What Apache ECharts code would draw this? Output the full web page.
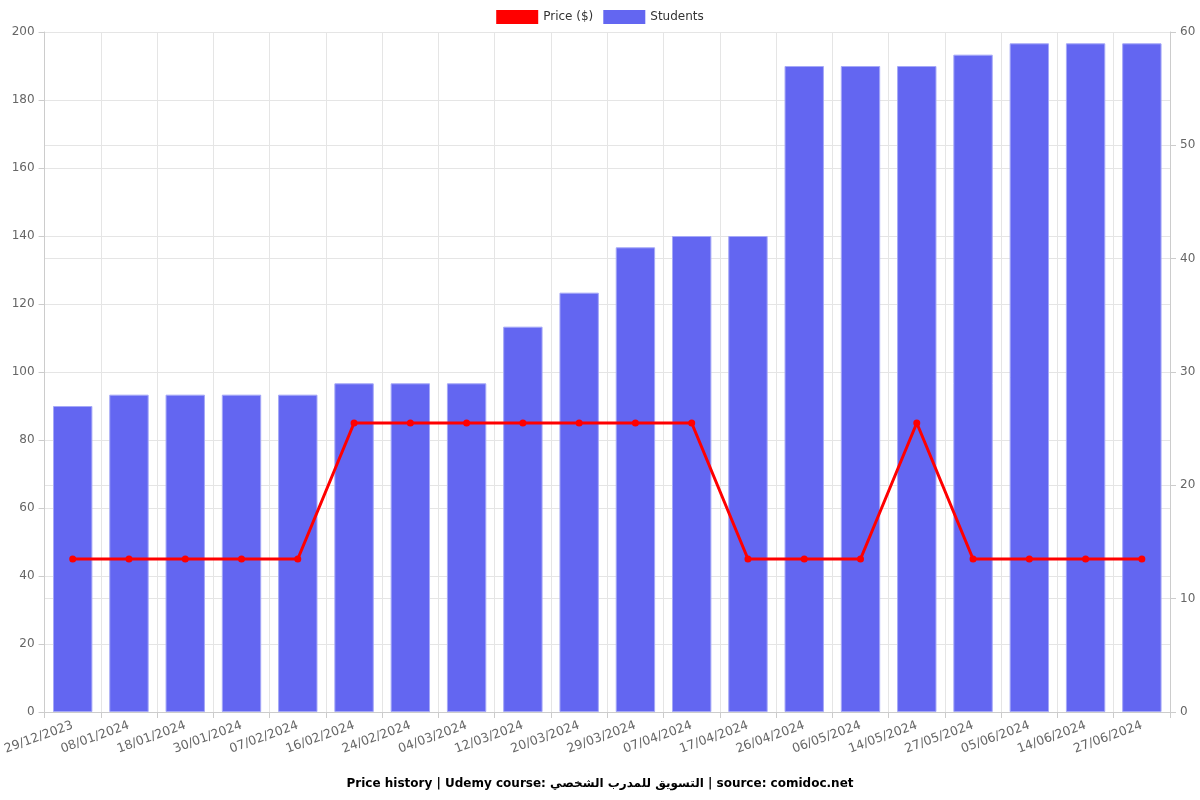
<!DOCTYPE html>
<html><head><meta charset="utf-8">
<script src="https://cdn.jsdelivr.net/npm/echarts@6/dist/echarts.min.js"></script>
<style>html,body{margin:0;padding:0;background:#fff}#c{width:1200px;height:800px}</style>
</head><body><div id="c"></div>
<script>
const categories = ["29/12/2023","08/01/2024","18/01/2024","30/01/2024","07/02/2024","16/02/2024","24/02/2024","04/03/2024","12/03/2024","20/03/2024","29/03/2024","07/04/2024","17/04/2024","26/04/2024","06/05/2024","14/05/2024","27/05/2024","05/06/2024","14/06/2024","27/06/2024"];
const price = [45,45,45,45,45,85,85,85,85,85,85,85,45,45,45,85,45,45,45,45];
const students = [27,28,28,28,28,29,29,29,34,37,41,42,42,57,57,57,58,59,59,59];
const titleText = "Price history | Udemy course: التسويق للمدرب الشخصي | source: comidoc.net";

const chart = echarts.init(document.getElementById('c'));
const axisLabelStyle = {color:'#666', fontSize:12, fontFamily:'DejaVu Sans'};
chart.setOption({
  animation:false,
  title:{text:titleText, left:'center', bottom:5, textStyle:{fontSize:12, fontWeight:'bold', color:'#000', fontFamily:'DejaVu Sans'}},
  legend:{top:5, itemWidth:42, itemHeight:14, itemGap:10, textStyle:{fontSize:12,color:'#333',fontFamily:'DejaVu Sans'},
    itemStyle:{borderWidth:0},
    data:[{name:'Price ($)', icon:'rect'},{name:'Students', icon:'rect'}]},
  grid:{left:43, right:30, top:32, bottom:88, containLabel:false},
  xAxis:{type:'category', data:categories, boundaryGap:true,
    axisLine:{lineStyle:{color:'#ccc'}}, axisTick:{show:true, alignWithLabel:false, length:6, lineStyle:{color:'#ccc'}},
    splitLine:{show:true, lineStyle:{color:'#e5e5e5'}},
    axisLabel:Object.assign({rotate:20, interval:0, margin:13}, axisLabelStyle, {fontSize:12.5})},
  yAxis:[
    {type:'value', min:0, max:200, interval:20, position:'left',
     axisLine:{show:true, lineStyle:{color:'#ccc'}}, axisTick:{show:true, length:6, lineStyle:{color:'#ccc'}},
     splitLine:{show:true, lineStyle:{color:'#e5e5e5'}}, axisLabel:Object.assign({margin:10}, axisLabelStyle)},
    {type:'value', min:0, max:60, interval:10, position:'right',
     axisLine:{show:true, lineStyle:{color:'#ccc'}}, axisTick:{show:true, length:6, lineStyle:{color:'#ccc'}},
     splitLine:{show:true, lineStyle:{color:'#e5e5e5'}}, axisLabel:Object.assign({margin:10}, axisLabelStyle)}
  ],
  series:[
    {name:'Price ($)', type:'line', yAxisIndex:0, data:price, z:3,
     itemStyle:{color:'#ff0000'}, lineStyle:{color:'#ff0000', width:3},
     symbol:'circle', symbolSize:7},
    {name:'Students', type:'bar', yAxisIndex:1, data:students, z:2, barCategoryGap:'30%',
     itemStyle:{color:'#6366f1', borderColor:'#a5a8f7', borderWidth:1}}
  ]
});
</script></body></html>
